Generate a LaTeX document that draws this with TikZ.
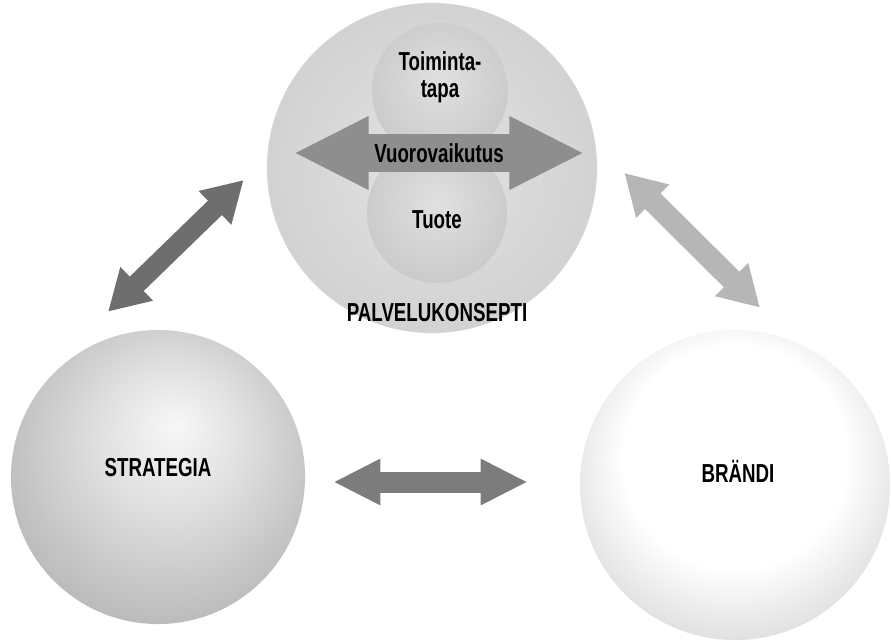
\documentclass[tikz,border=0pt]{standalone}
\usepackage{fontspec}
\usepackage{tikz}
\usetikzlibrary{arrows.meta,calc}
\newfontfamily\condfont{Liberation Sans}[FakeStretch=0.72]
\definecolor{arrdark}{HTML}{6E6E6E}
\definecolor{arrmid}{HTML}{7C7C7C}
\definecolor{arrinner}{HTML}{8E8E8E}
\definecolor{arrlight}{HTML}{B6B6B6}
\pgfdeclareradialshading{strategyball}{\pgfpoint{3bp}{9bp}}{color(0bp)=(black!3); color(12bp)=(black!12); color(50bp)=(black!45)}
\pgfdeclareradialshading{brandball}{\pgfpoint{0bp}{7bp}}{color(0bp)=(white); color(18bp)=(white); color(50bp)=(black!38)}
\pgfdeclareradialshading{conceptball}{\pgfpoint{0bp}{0bp}}{color(0bp)=(black!11); color(30bp)=(black!19); color(50bp)=(black!30)}
\pgfdeclareradialshading{smallball}{\pgfpoint{0bp}{4bp}}{color(0bp)=(black!12); color(28bp)=(black!21); color(50bp)=(black!42)}

\begin{document}
\begin{tikzpicture}[
    x=0.025cm, y=-0.025cm,
    ball/.style={circle,inner sep=0pt,shade},
    lbl/.style={font=\condfont\bfseries\fontsize{18.5}{19.5}\selectfont,
                text=black,align=center,inner sep=1pt},
    diagarr/.style={line width=0.5cm,
                    {Triangle[length=1cm,width=1.1cm]}-{Triangle[length=1cm,width=1.1cm]}},
    flatarr/.style={line width=0.525cm,arrmid,
                    {Triangle[length=1.175cm,width=1.075cm]}-{Triangle[length=1.175cm,width=1.075cm]}},
    innerarr/.style={line width=0.95cm,arrinner,
                     {Triangle[length=1.875cm,width=1.7cm]}-{Triangle[length=1.875cm,width=1.7cm]}}
  ]
    \useasboundingbox (0,0) rectangle (891,643);

    % the three spheres
    \node[ball,shading=conceptball,minimum size=8.25cm] (palv) at (432,168) {};
    \node[ball,shading=strategyball,minimum size=7.35cm] (strat) at (158,477) {};
    \node[ball,shading=brandball,minimum size=7.75cm] (brandi) at (735,485) {};

    % inside the service concept
    \node[ball,shading=smallball,minimum size=3.4cm] (toim) at (440,91) {};
    \node[ball,shading=smallball,minimum size=3.5cm] (tuote) at (437,213) {};
    \draw[innerarr] ($(palv.west)+(27,-15)$) -- node[lbl] (vuoro) {Vuorovaikutus}
      ($(palv.east)+(-13,-15)$);

    \node[lbl] (toimtxt) at ($(toim)+(0,-14)$) {Toiminta-\\tapa};
    \node[lbl] (tuotetxt) at ($(tuote)+(0,7)$) {Tuote};
    \node[lbl] (palvtxt) at ($(palv.south)+(5,-21)$) {PALVELUKONSEPTI};
    \node[lbl] (strattxt) at ($(strat)+(0,-9)$) {STRATEGIA};
    \node[lbl] (brandtxt) at ($(brandi)+(3,-14)$) {BRÄNDI};

    % links between the spheres
    \draw[diagarr,arrdark] ($(palv.west)+(-23,12)$) -- ($(strat.north)+(-50,-18)$);
    \draw[diagarr,arrlight,line width=0.55cm] ($(palv.east)+(27,5)$) -- ($(brandi.north)+(25,-22)$);
    \draw[flatarr] ($(strat.east)+(28,5)$) -- ($(brandi.west)+(-52,-3)$);
  \end{tikzpicture}
\end{document}
